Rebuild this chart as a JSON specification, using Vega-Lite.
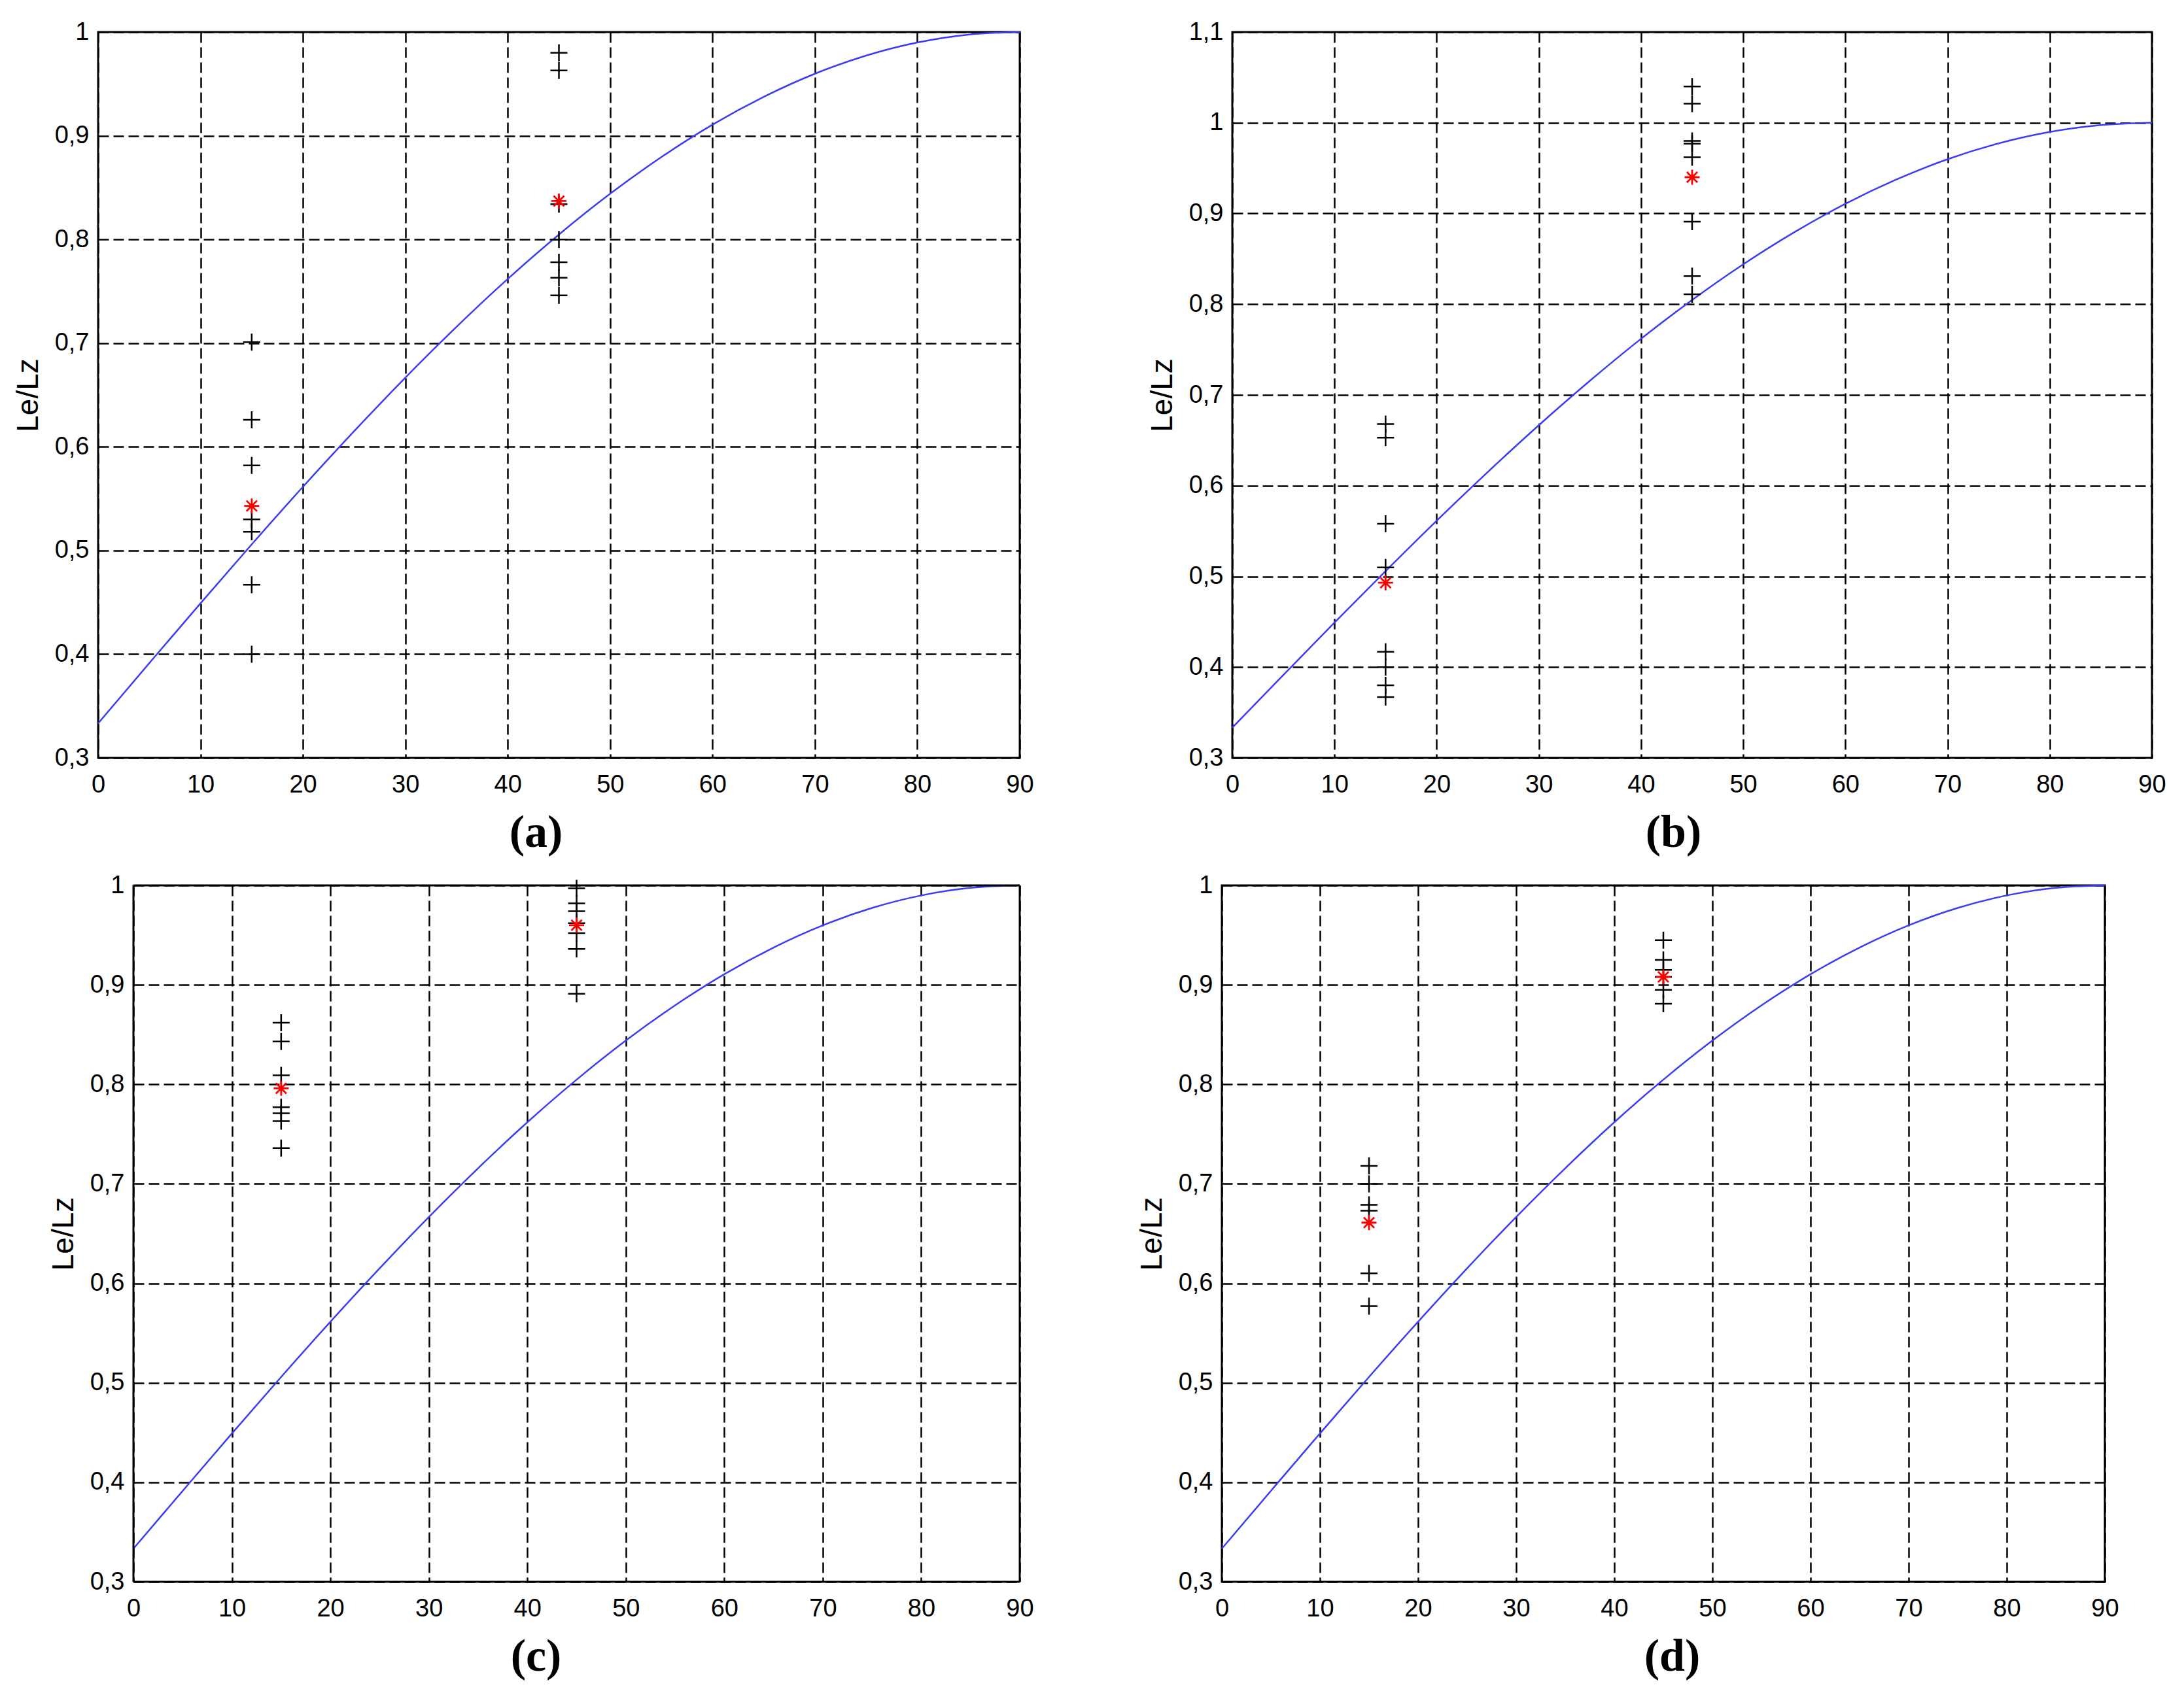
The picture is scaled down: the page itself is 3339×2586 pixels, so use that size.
{
  "$schema": "https://vega.github.io/schema/vega-lite/v6.json",
  "background": "white",
  "padding": {"left": 18, "top": 28, "right": 5, "bottom": 5},
  "config": {
    "view": {"stroke": "black", "strokeWidth": 3},
    "axis": {"grid": true, "gridColor": "#000000", "gridDash": [16, 7], "gridWidth": 2.5, "gridOpacity": 1, "domain": false, "ticks": false, "tickSize": 0, "labelFont": "Liberation Sans Narrow, Liberation Sans", "labelFontSize": 38, "labelColor": "#000000", "labelFlush": false, "labelOverlap": false, "titleColor": "#000000"},
    "axisX": {"labelPadding": 22, "titleFont": "Liberation Serif", "titleFontSize": 70, "titleFontWeight": "bold", "titlePadding": 20},
    "axisY": {"labelPadding": 14, "titleFont": "Liberation Sans", "titleFontSize": 46, "titleFontWeight": "normal", "titlePadding": 16}
  },
  "datasets": {
    "curve": [
      {"t": 0, "v": 0.3333}, {"t": 5, "v": 0.3914}, {"t": 10, "v": 0.4491}, {"t": 15, "v": 0.5059},
      {"t": 20, "v": 0.5614}, {"t": 25, "v": 0.6151}, {"t": 30, "v": 0.6667}, {"t": 35, "v": 0.7157},
      {"t": 40, "v": 0.7619}, {"t": 45, "v": 0.8047}, {"t": 50, "v": 0.844}, {"t": 55, "v": 0.8794},
      {"t": 60, "v": 0.9107}, {"t": 65, "v": 0.9375}, {"t": 70, "v": 0.9598}, {"t": 75, "v": 0.9773},
      {"t": 80, "v": 0.9899}, {"t": 85, "v": 0.9975}, {"t": 90, "v": 1.0}
    ],
    "pts": [
      {"p": "a", "t": 15, "v": 0.701, "k": "m"}, {"p": "a", "t": 15, "v": 0.626, "k": "m"}, {"p": "a", "t": 15, "v": 0.582, "k": "m"},
      {"p": "a", "t": 15, "v": 0.530, "k": "m"}, {"p": "a", "t": 15, "v": 0.518, "k": "m"}, {"p": "a", "t": 15, "v": 0.467, "k": "m"},
      {"p": "a", "t": 15, "v": 0.400, "k": "m"}, {"p": "a", "t": 15, "v": 0.543, "k": "mean"},
      {"p": "a", "t": 45, "v": 0.980, "k": "m"}, {"p": "a", "t": 45, "v": 0.963, "k": "m"}, {"p": "a", "t": 45, "v": 0.834, "k": "m"},
      {"p": "a", "t": 45, "v": 0.800, "k": "m"}, {"p": "a", "t": 45, "v": 0.778, "k": "m"}, {"p": "a", "t": 45, "v": 0.763, "k": "m"},
      {"p": "a", "t": 45, "v": 0.746, "k": "m"}, {"p": "a", "t": 45, "v": 0.837, "k": "mean"},
      {"p": "b", "t": 15, "v": 0.668, "k": "m"}, {"p": "b", "t": 15, "v": 0.653, "k": "m"}, {"p": "b", "t": 15, "v": 0.558, "k": "m"},
      {"p": "b", "t": 15, "v": 0.510, "k": "m"}, {"p": "b", "t": 15, "v": 0.417, "k": "m"}, {"p": "b", "t": 15, "v": 0.400, "k": "m"},
      {"p": "b", "t": 15, "v": 0.380, "k": "m"}, {"p": "b", "t": 15, "v": 0.367, "k": "m"}, {"p": "b", "t": 15, "v": 0.493, "k": "mean"},
      {"p": "b", "t": 45, "v": 1.040, "k": "m"}, {"p": "b", "t": 45, "v": 1.021, "k": "m"}, {"p": "b", "t": 45, "v": 0.980, "k": "m"},
      {"p": "b", "t": 45, "v": 0.977, "k": "m"}, {"p": "b", "t": 45, "v": 0.962, "k": "m"}, {"p": "b", "t": 45, "v": 0.891, "k": "m"},
      {"p": "b", "t": 45, "v": 0.831, "k": "m"}, {"p": "b", "t": 45, "v": 0.811, "k": "m"}, {"p": "b", "t": 45, "v": 0.940, "k": "mean"},
      {"p": "c", "t": 15, "v": 0.862, "k": "m"}, {"p": "c", "t": 15, "v": 0.843, "k": "m"}, {"p": "c", "t": 15, "v": 0.809, "k": "m"},
      {"p": "c", "t": 15, "v": 0.777, "k": "m"}, {"p": "c", "t": 15, "v": 0.771, "k": "m"}, {"p": "c", "t": 15, "v": 0.763, "k": "m"},
      {"p": "c", "t": 15, "v": 0.736, "k": "m"}, {"p": "c", "t": 15, "v": 0.796, "k": "mean"},
      {"p": "c", "t": 45, "v": 0.997, "k": "m"}, {"p": "c", "t": 45, "v": 0.982, "k": "m"}, {"p": "c", "t": 45, "v": 0.974, "k": "m"},
      {"p": "c", "t": 45, "v": 0.962, "k": "m"}, {"p": "c", "t": 45, "v": 0.952, "k": "m"}, {"p": "c", "t": 45, "v": 0.936, "k": "m"},
      {"p": "c", "t": 45, "v": 0.891, "k": "m"}, {"p": "c", "t": 45, "v": 0.960, "k": "mean"},
      {"p": "d", "t": 15, "v": 0.718, "k": "m"}, {"p": "d", "t": 15, "v": 0.700, "k": "m"}, {"p": "d", "t": 15, "v": 0.679, "k": "m"},
      {"p": "d", "t": 15, "v": 0.673, "k": "m"}, {"p": "d", "t": 15, "v": 0.610, "k": "m"}, {"p": "d", "t": 15, "v": 0.577, "k": "m"},
      {"p": "d", "t": 15, "v": 0.661, "k": "mean"},
      {"p": "d", "t": 45, "v": 0.945, "k": "m"}, {"p": "d", "t": 45, "v": 0.925, "k": "m"}, {"p": "d", "t": 45, "v": 0.915, "k": "m"},
      {"p": "d", "t": 45, "v": 0.908, "k": "m"}, {"p": "d", "t": 45, "v": 0.895, "k": "m"}, {"p": "d", "t": 45, "v": 0.881, "k": "m"},
      {"p": "d", "t": 45, "v": 0.908, "k": "mean"}
    ]
  },
  "spacing": 23,
  "vconcat": [
    {
      "spacing": 170,
      "hconcat": [
        {
          "width": 1409, "height": 1110,
          "layer": [
            {"data": {"name": "curve"}, "mark": {"type": "line", "color": "#3c3cf5", "strokeWidth": 2.5, "interpolate": "monotone"},
             "encoding": {
               "x": {"field": "t", "type": "quantitative", "scale": {"domain": [0, 90], "nice": false, "zero": false}, "axis": {"values": [0,10,20,30,40,50,60,70,80,90], "format": "d", "title": "(a)", "titleX": 669}},
               "y": {"field": "v", "type": "quantitative", "scale": {"domain": [0.3, 1], "nice": false, "zero": false}, "axis": {"values": [0.3,0.4,0.5,0.6,0.7,0.8,0.9,1], "labelExpr": "datum.value == 1 ? '1' : replace(format(datum.value, '.1f'), '.', ',')", "title": "Le/Lz"}}
             }},
            {"data": {"name": "pts"}, "transform": [{"filter": "datum.p == 'a' && datum.k == 'm'"}],
             "mark": {"type": "point", "shape": "M-1,0H1M0,-1V1", "size": 676, "filled": false, "color": "#000000", "strokeWidth": 2.5, "opacity": 1},
             "encoding": {"x": {"field": "t", "type": "quantitative"}, "y": {"field": "v", "type": "quantitative"}}},
            {"data": {"name": "pts"}, "transform": [{"filter": "datum.p == 'a' && datum.k == 'mean'"}],
             "mark": {"type": "point", "shape": "M-1,0H1M0,-1V1M-0.7,-0.7L0.7,0.7M-0.7,0.7L0.7,-0.7", "size": 529, "filled": false, "color": "#ff0000", "strokeWidth": 2.8, "opacity": 1},
             "encoding": {"x": {"field": "t", "type": "quantitative"}, "y": {"field": "v", "type": "quantitative"}}}
          ]
        },
        {
          "width": 1406, "height": 1110,
          "layer": [
            {"data": {"name": "curve"}, "mark": {"type": "line", "color": "#3c3cf5", "strokeWidth": 2.5, "interpolate": "monotone"},
             "encoding": {
               "x": {"field": "t", "type": "quantitative", "scale": {"domain": [0, 90], "nice": false, "zero": false}, "axis": {"values": [0,10,20,30,40,50,60,70,80,90], "format": "d", "title": "(b)", "titleX": 674}},
               "y": {"field": "v", "type": "quantitative", "scale": {"domain": [0.3, 1.1], "nice": false, "zero": false}, "axis": {"values": [0.3,0.4,0.5,0.6,0.7,0.8,0.9,1,1.1], "labelExpr": "datum.value == 1 ? '1' : replace(format(datum.value, '.1f'), '.', ',')", "title": "Le/Lz"}}
             }},
            {"data": {"name": "pts"}, "transform": [{"filter": "datum.p == 'b' && datum.k == 'm'"}],
             "mark": {"type": "point", "shape": "M-1,0H1M0,-1V1", "size": 676, "filled": false, "color": "#000000", "strokeWidth": 2.5, "opacity": 1},
             "encoding": {"x": {"field": "t", "type": "quantitative"}, "y": {"field": "v", "type": "quantitative"}}},
            {"data": {"name": "pts"}, "transform": [{"filter": "datum.p == 'b' && datum.k == 'mean'"}],
             "mark": {"type": "point", "shape": "M-1,0H1M0,-1V1M-0.7,-0.7L0.7,0.7M-0.7,0.7L0.7,-0.7", "size": 529, "filled": false, "color": "#ff0000", "strokeWidth": 2.8, "opacity": 1},
             "encoding": {"x": {"field": "t", "type": "quantitative"}, "y": {"field": "v", "type": "quantitative"}}}
          ]
        }
      ]
    },
    {
      "spacing": 155,
      "hconcat": [
        {
          "width": 1409, "height": 1065,
          "view": {"stroke": null},
          "layer": [
            {"data": {"name": "curve"}, "mark": {"type": "line", "color": "#3c3cf5", "strokeWidth": 2.5, "interpolate": "monotone"},
             "encoding": {
               "x": {"field": "t", "type": "quantitative", "scale": {"domain": [0, 90], "nice": false, "zero": false, "rangeMin": 54}, "axis": {"values": [0,10,20,30,40,50,60,70,80,90], "format": "d", "title": "(c)", "titleX": 669}},
               "y": {"field": "v", "type": "quantitative", "scale": {"domain": [0.3, 1], "nice": false, "zero": false}, "axis": {"values": [0.3,0.4,0.5,0.6,0.7,0.8,0.9,1], "labelExpr": "datum.value == 1 ? '1' : replace(format(datum.value, '.1f'), '.', ',')", "title": "Le/Lz", "offset": -54}}
             }},
            {"data": {"values": [{}]}, "mark": {"type": "rule", "color": "#000000", "strokeWidth": 3},
             "encoding": {"x": {"datum": 0, "type": "quantitative"}}},
            {"data": {"values": [{}]}, "mark": {"type": "rule", "color": "#000000", "strokeWidth": 3},
             "encoding": {"x": {"datum": 90, "type": "quantitative"}}},
            {"data": {"values": [{}]}, "mark": {"type": "rule", "color": "#000000", "strokeWidth": 3},
             "encoding": {"y": {"datum": 0.3, "type": "quantitative"}, "x": {"datum": 0, "type": "quantitative"}, "x2": {"datum": 90}}},
            {"data": {"values": [{}]}, "mark": {"type": "rule", "color": "#000000", "strokeWidth": 3},
             "encoding": {"y": {"datum": 1, "type": "quantitative"}, "x": {"datum": 0, "type": "quantitative"}, "x2": {"datum": 90}}},
            {"data": {"name": "pts"}, "transform": [{"filter": "datum.p == 'c' && datum.k == 'm'"}],
             "mark": {"type": "point", "shape": "M-1,0H1M0,-1V1", "size": 676, "filled": false, "color": "#000000", "strokeWidth": 2.5, "opacity": 1},
             "encoding": {"x": {"field": "t", "type": "quantitative"}, "y": {"field": "v", "type": "quantitative"}}},
            {"data": {"name": "pts"}, "transform": [{"filter": "datum.p == 'c' && datum.k == 'mean'"}],
             "mark": {"type": "point", "shape": "M-1,0H1M0,-1V1M-0.7,-0.7L0.7,0.7M-0.7,0.7L0.7,-0.7", "size": 529, "filled": false, "color": "#ff0000", "strokeWidth": 2.8, "opacity": 1},
             "encoding": {"x": {"field": "t", "type": "quantitative"}, "y": {"field": "v", "type": "quantitative"}}}
          ]
        },
        {
          "width": 1350, "height": 1065,
          "layer": [
            {"data": {"name": "curve"}, "mark": {"type": "line", "color": "#3c3cf5", "strokeWidth": 2.5, "interpolate": "monotone"},
             "encoding": {
               "x": {"field": "t", "type": "quantitative", "scale": {"domain": [0, 90], "nice": false, "zero": false}, "axis": {"values": [0,10,20,30,40,50,60,70,80,90], "format": "d", "title": "(d)", "titleX": 688}},
               "y": {"field": "v", "type": "quantitative", "scale": {"domain": [0.3, 1], "nice": false, "zero": false}, "axis": {"values": [0.3,0.4,0.5,0.6,0.7,0.8,0.9,1], "labelExpr": "datum.value == 1 ? '1' : replace(format(datum.value, '.1f'), '.', ',')", "title": "Le/Lz"}}
             }},
            {"data": {"name": "pts"}, "transform": [{"filter": "datum.p == 'd' && datum.k == 'm'"}],
             "mark": {"type": "point", "shape": "M-1,0H1M0,-1V1", "size": 676, "filled": false, "color": "#000000", "strokeWidth": 2.5, "opacity": 1},
             "encoding": {"x": {"field": "t", "type": "quantitative"}, "y": {"field": "v", "type": "quantitative"}}},
            {"data": {"name": "pts"}, "transform": [{"filter": "datum.p == 'd' && datum.k == 'mean'"}],
             "mark": {"type": "point", "shape": "M-1,0H1M0,-1V1M-0.7,-0.7L0.7,0.7M-0.7,0.7L0.7,-0.7", "size": 529, "filled": false, "color": "#ff0000", "strokeWidth": 2.8, "opacity": 1},
             "encoding": {"x": {"field": "t", "type": "quantitative"}, "y": {"field": "v", "type": "quantitative"}}}
          ]
        }
      ]
    }
  ]
}
